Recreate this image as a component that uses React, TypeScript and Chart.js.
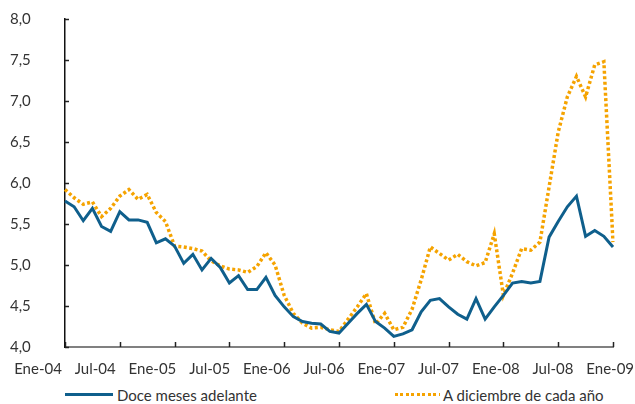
import React, { useEffect, useRef } from 'react';
import { Chart, registerables } from 'chart.js';

Chart.register(...registerables);

const monthNames = ['Ene', 'Feb', 'Mar', 'Abr', 'May', 'Jun', 'Jul', 'Ago', 'Sep', 'Oct', 'Nov', 'Dic'];
const yearSuffixes = ['04', '05', '06', '07', '08', '09'];

// monthly categories Ene-04 .. Ene-09
const categories: string[] = [];
yearSuffixes.forEach((y, yi) => {
  monthNames.forEach((m, mi) => {
    if (yi < yearSuffixes.length - 1 || mi === 0) categories.push(`${m}-${y}`);
  });
});

const tickLabels = ['Ene-04', 'Jul-04', 'Ene-05', 'Jul-05', 'Ene-06', 'Jul-06', 'Ene-07', 'Jul-07', 'Ene-08', 'Jul-08', 'Ene-09'];
const yTicks = [4.0, 4.5, 5.0, 5.5, 6.0, 6.5, 7.0, 7.5, 8.0];

const doceMesesAdelante = [
  5.78, 5.71, 5.54, 5.69, 5.47, 5.41, 5.65, 5.55, 5.55, 5.52,
  5.27, 5.32, 5.23, 5.02, 5.13, 4.94, 5.08, 4.97, 4.78, 4.87,
  4.70, 4.70, 4.85, 4.63, 4.49, 4.37, 4.31, 4.29, 4.28, 4.19,
  4.17, 4.29, 4.41, 4.52, 4.31, 4.23, 4.13, 4.16, 4.21, 4.43,
  4.57, 4.59, 4.49, 4.40, 4.34, 4.59, 4.34, 4.49, 4.63, 4.78,
  4.80, 4.78, 4.80, 5.34, 5.53, 5.71, 5.84, 5.35, 5.42, 5.35,
  5.22,
];

const aDiciembreDeCadaAno = [
  5.92, 5.82, 5.74, 5.77, 5.59, 5.69, 5.84, 5.92, 5.80, 5.86,
  5.64, 5.53, 5.23, 5.22, 5.20, 5.17, 5.05, 4.99, 4.95, 4.94,
  4.91, 4.98, 5.15, 5.00, 4.63, 4.41, 4.29, 4.23, 4.24, 4.21,
  4.19, 4.34, 4.49, 4.65, 4.28, 4.41, 4.21, 4.24, 4.46, 4.82,
  5.22, 5.14, 5.06, 5.13, 5.04, 4.99, 5.03, 5.38, 4.63, 4.90,
  5.20, 5.18, 5.28, 5.95, 6.62, 7.05, 7.30, 7.05, 7.44, 7.48,
  5.28,
];

// the tick labels are spread a little wider than the tick marks in the original
const LABEL_AXIS_MIN = 0.472;
const LABEL_AXIS_MAX = 10.049;

const BLUE = '#0f5f8c';
const ORANGE = '#f5a300';
const TEXT = '#333333';
const FONT = 'Lato, "Open Sans", sans-serif';

const innerTicks = {
  id: 'innerTicks',
  beforeDatasetsDraw(chart: any) {
    const { ctx, chartArea, scales } = chart;
    const xs = scales.x;
    const ys = scales.y;
    ctx.save();
    ctx.lineWidth = 1.5;
    ctx.strokeStyle = '#222';
    categories.forEach((c, i) => {
      if (tickLabels.includes(c)) {
        const px = Math.round(xs.getPixelForValue(i)) + 0.5;
        ctx.beginPath();
        ctx.moveTo(px, chartArea.bottom);
        ctx.lineTo(px, chartArea.bottom - 5);
        ctx.stroke();
      }
    });
    yTicks.forEach((v) => {
      const py = Math.round(ys.getPixelForValue(v)) + 0.5;
      ctx.beginPath();
      ctx.moveTo(chartArea.left, py);
      ctx.lineTo(chartArea.left + 4, py);
      ctx.stroke();
    });
    ctx.restore();
  },
};

export default function App() {
  const canvasRef = useRef<HTMLCanvasElement | null>(null);

  useEffect(() => {
    if (!canvasRef.current) return;
    const chart = new Chart(canvasRef.current, {
      type: 'line',
      data: {
        labels: categories,
        datasets: [
          {
            label: 'Doce meses adelante',
            data: doceMesesAdelante,
            borderColor: BLUE,
            backgroundColor: BLUE,
            borderWidth: 3,
            pointRadius: 0,
            tension: 0,
            borderJoinStyle: 'miter',
          },
          {
            label: 'A diciembre de cada año',
            data: aDiciembreDeCadaAno,
            borderColor: ORANGE,
            backgroundColor: ORANGE,
            borderWidth: 3.5,
            borderDash: [3, 2.5],
            pointRadius: 0,
            tension: 0,
          },
        ],
      },
      options: {
        responsive: false,
        maintainAspectRatio: false,
        animation: false,
        devicePixelRatio: 1,
        layout: { padding: { top: 19, right: 87, left: 10, bottom: 0 } },
        plugins: {
          legend: { display: false },
          tooltip: { enabled: false },
        },
        scales: {
          x: {
            type: 'category',
            offset: false,
            weight: 0,
            grid: { display: false, drawTicks: false },
            border: { display: true, color: '#808080', width: 2 },
            afterFit: (s: any) => {
              s.height = 13;
            },
            ticks: { display: false, autoSkip: false, padding: 0 },
          },
          xlab: {
            type: 'linear',
            position: 'bottom',
            weight: 1,
            min: LABEL_AXIS_MIN,
            max: LABEL_AXIS_MAX,
            grid: { display: false, drawTicks: false },
            border: { display: false },
            afterBuildTicks: (s: any) => {
              s.ticks = tickLabels.map((_t, j) => ({ value: j }));
            },
            afterFit: (s: any) => {
              s.height = 20;
            },
            ticks: {
              autoSkip: false,
              maxRotation: 0,
              minRotation: 0,
              padding: 0,
              color: TEXT,
              font: { family: FONT, size: 15 },
              callback: (v: any) => tickLabels[Math.round(Number(v))] ?? '',
            },
          },
          y: {
            min: 4,
            max: 8,
            grid: { display: false, drawTicks: false },
            border: { display: true, color: '#111', width: 1.5 },
            afterFit: (s: any) => {
              s.width = 55;
            },
            afterBuildTicks: (s: any) => {
              s.ticks = yTicks.map((v) => ({ value: v }));
            },
            ticks: {
              padding: 0,
              crossAlign: 'far',
              color: TEXT,
              font: { family: FONT, size: 15 },
              callback: (v: any) => Number(v).toFixed(1).replace('.', ','),
            },
          },
        },
      },
      plugins: [innerTicks],
    });
    return () => chart.destroy();
  }, []);

  const legendText: React.CSSProperties = {
    position: 'absolute',
    top: 386,
    fontFamily: FONT,
    fontSize: 15,
    lineHeight: '18px',
    color: TEXT,
    whiteSpace: 'nowrap',
  };

  return (
    <div style={{ position: 'fixed', left: 0, top: 0, width: 635, height: 404, overflow: 'hidden', background: '#fff' }}>
      <canvas ref={canvasRef} width={700} height={380} style={{ position: 'absolute', left: 0, top: 0 }} />
      <div style={{ position: 'absolute', left: 65, top: 393, width: 48, height: 3, background: BLUE }} />
      <div style={{ ...legendText, left: 117 }}>Doce meses adelante</div>
      <div
        style={{
          position: 'absolute',
          left: 395,
          top: 392.5,
          width: 45,
          height: 3.5,
          background: `repeating-linear-gradient(to right, ${ORANGE} 0 3px, transparent 3px 5.5px)`,
        }}
      />
      <div style={{ ...legendText, left: 443 }}>A diciembre de cada año</div>
    </div>
  );
}
